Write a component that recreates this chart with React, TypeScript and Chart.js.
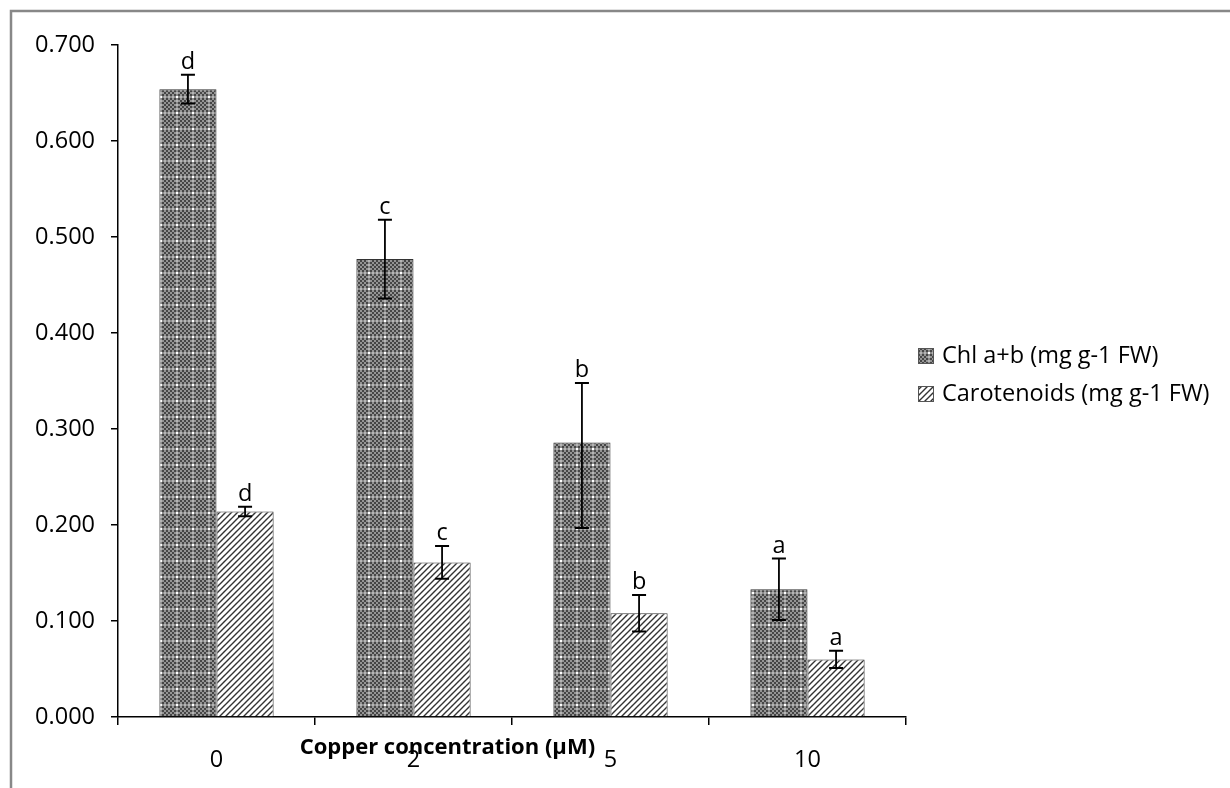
import React, { useEffect, useRef } from "react";
import { Chart, registerables } from "chart.js";

Chart.register(...registerables);

const categories = ["0", "2", "5", "10"];
const chlLabel = "Chl a+b (mg g-1 FW)";
const carLabel = "Carotenoids (mg g-1 FW)";
const chlValues = [0.654, 0.477, 0.286, 0.133];
const chlErrPlus = [0.015, 0.041, 0.062, 0.032];
const chlErrMinus = [0.015, 0.041, 0.089, 0.032];
const carValues = [0.214, 0.161, 0.108, 0.06];
const carErrPlus = [0.005, 0.017, 0.019, 0.009];
const carErrMinus = [0.005, 0.017, 0.019, 0.009];
const chlLetters = ["d", "c", "b", "a"];
const carLetters = ["d", "c", "b", "a"];
const yMin = 0;
const yMax = 0.7;
const yStep = 0.1;
const xTitle = "Copper concentration (\u03bcM)";

const FONT = '"Open Sans", sans-serif';
const FS = 23.5;

function makeCheckPattern(): CanvasPattern | string {
  const c = document.createElement("canvas");
  c.width = 16;
  c.height = 16;
  const g = c.getContext("2d");
  if (!g) return "#777";
  for (let i = 0; i < 8; i++) {
    for (let j = 0; j < 8; j++) {
      const dark = (i + j) % 2 === 0;
      let col = dark ? "#464646" : "#949494";
      if (i === 0 || j === 0) col = dark ? "#b4b4b4" : "#8a8a8a";
      if (i === 0 && j === 0) col = "#ffffff";
      g.fillStyle = col;
      g.fillRect(i * 2, j * 2, 2, 2);
    }
  }
  return g.createPattern(c, "repeat") as CanvasPattern;
}

function makeHatchPattern(): CanvasPattern | string {
  const s = 6;
  const c = document.createElement("canvas");
  c.width = s;
  c.height = s;
  const g = c.getContext("2d");
  if (!g) return "#bbb";
  g.fillStyle = "#ffffff";
  g.fillRect(0, 0, s, s);
  g.strokeStyle = "#333333";
  g.lineWidth = 1.4;
  g.beginPath();
  g.moveTo(-1, s + 1);
  g.lineTo(s + 1, -1);
  g.moveTo(-1, 1);
  g.lineTo(1, -1);
  g.moveTo(s - 1, s + 1);
  g.lineTo(s + 1, s - 1);
  g.stroke();
  return g.createPattern(c, "repeat") as CanvasPattern;
}

const framePlugin = {
  id: "frame",
  beforeDraw(chart: any) {
    const ctx = chart.ctx;
    ctx.save();
    ctx.strokeStyle = "#888888";
    ctx.lineWidth = 2.5;
    ctx.beginPath();
    ctx.moveTo(11, chart.height + 10);
    ctx.lineTo(11, 11);
    ctx.lineTo(chart.width + 10, 11);
    ctx.stroke();
    ctx.restore();
  },
};

const errorPlugin = {
  id: "errorBars",
  afterDatasetsDraw(chart: any) {
    const ctx = chart.ctx;
    const yScale = chart.scales.y;
    const sets = [
      { values: chlValues, plus: chlErrPlus, minus: chlErrMinus, letters: chlLetters },
      { values: carValues, plus: carErrPlus, minus: carErrMinus, letters: carLetters },
    ];
    ctx.save();
    sets.forEach((s, d) => {
      const meta = chart.getDatasetMeta(d);
      meta.data.forEach((bar: any, i: number) => {
        const x = bar.x;
        const yTop = yScale.getPixelForValue(s.values[i] + s.plus[i]);
        const yBot = yScale.getPixelForValue(s.values[i] - s.minus[i]);
        ctx.strokeStyle = "#000";
        ctx.lineWidth = 1.8;
        ctx.beginPath();
        ctx.moveTo(x, yTop);
        ctx.lineTo(x, yBot);
        ctx.stroke();
        ctx.lineWidth = 2;
        ctx.beginPath();
        ctx.moveTo(x - 7, yTop);
        ctx.lineTo(x + 7, yTop);
        ctx.moveTo(x - 7, yBot);
        ctx.lineTo(x + 7, yBot);
        ctx.stroke();
        ctx.fillStyle = "#000";
        ctx.font = FS + "px " + FONT;
        ctx.textAlign = "center";
        ctx.textBaseline = "alphabetic";
        ctx.fillText(s.letters[i], x, yTop - 6);
      });
    });
    ctx.restore();
  },
};

const titlePlugin = {
  id: "xTitle",
  afterDraw(chart: any) {
    const ctx = chart.ctx;
    const a = chart.chartArea;
    ctx.save();
    ctx.fillStyle = "#000";
    ctx.font = "bold 22px " + FONT;
    ctx.textAlign = "center";
    ctx.textBaseline = "middle";
    ctx.fillText(xTitle, a.left + (a.right - a.left) * 0.418, a.bottom + 31);
    ctx.restore();
  },
};

const legendPlugin = {
  id: "manualLegend",
  afterDraw(chart: any) {
    const ctx = chart.ctx;
    const a = chart.chartArea;
    const x0 = a.right + 12;
    const midY = (a.top + a.bottom) / 2;
    const gap = 38;
    ctx.save();
    chart.data.datasets.forEach((ds: any, i: number) => {
      const cy = midY - 25 + i * gap;
      ctx.fillStyle = ds.backgroundColor;
      ctx.fillRect(x0, cy - 8, 16, 16);
      ctx.strokeStyle = "#555";
      ctx.lineWidth = 1;
      ctx.strokeRect(x0 + 0.5, cy - 7.5, 15, 15);
      ctx.fillStyle = "#000";
      ctx.font = FS + "px " + FONT;
      ctx.textAlign = "left";
      ctx.textBaseline = "middle";
      ctx.fillText(ds.label, x0 + 24, cy);
    });
    ctx.restore();
  },
};

export default function App() {
  const ref = useRef<HTMLCanvasElement | null>(null);
  useEffect(() => {
    if (!ref.current) return;
    const chl = makeCheckPattern();
    const car = makeHatchPattern();
    const chart = new Chart(ref.current, {
      type: "bar",
      data: {
        labels: categories,
        datasets: [
          {
            label: chlLabel,
            data: chlValues,
            backgroundColor: chl as any,
            borderColor: "#333",
            borderWidth: 1,
            categoryPercentage: 0.58,
            barPercentage: 1,
          },
          {
            label: carLabel,
            data: carValues,
            backgroundColor: car as any,
            borderColor: "#333",
            borderWidth: 1,
            categoryPercentage: 0.58,
            barPercentage: 1,
          },
        ],
      },
      options: {
        animation: false,
        responsive: false,
        layout: { padding: { left: 34, top: 45, bottom: 14, right: 324 } },
        plugins: {
          legend: { display: false },
          tooltip: { enabled: false },
        },
        scales: {
          x: {
            offset: true,
            afterFit: (scale: any) => {
              scale.height = 57;
            },
            grid: {
              offset: true,
              drawOnChartArea: false,
              drawTicks: true,
              tickLength: 8,
              color: "#000",
              lineWidth: 1.5,
            },
            border: { color: "#000", width: 1.5 },
            ticks: { color: "#000", padding: 21, font: { family: FONT, size: FS } },
          },
          y: {
            min: yMin,
            max: yMax,
            afterFit: (scale: any) => {
              scale.width = 84;
            },
            grid: {
              drawOnChartArea: false,
              drawTicks: true,
              tickLength: 7,
              color: "#000",
              lineWidth: 1.5,
            },
            border: { color: "#000", width: 1.5 },
            ticks: {
              stepSize: yStep,
              color: "#000",
              padding: 16,
              font: { family: FONT, size: FS },
              callback: (v: any) => Number(v).toFixed(3),
            },
          },
        },
      },
      plugins: [framePlugin, errorPlugin, titlePlugin, legendPlugin],
    });
    return () => chart.destroy();
  }, []);
  return (
    <div style={{ position: "fixed", left: 0, top: 0, width: 1230, height: 788, background: "#fff" }}>
      <canvas ref={ref} width={1230} height={788} />
    </div>
  );
}
